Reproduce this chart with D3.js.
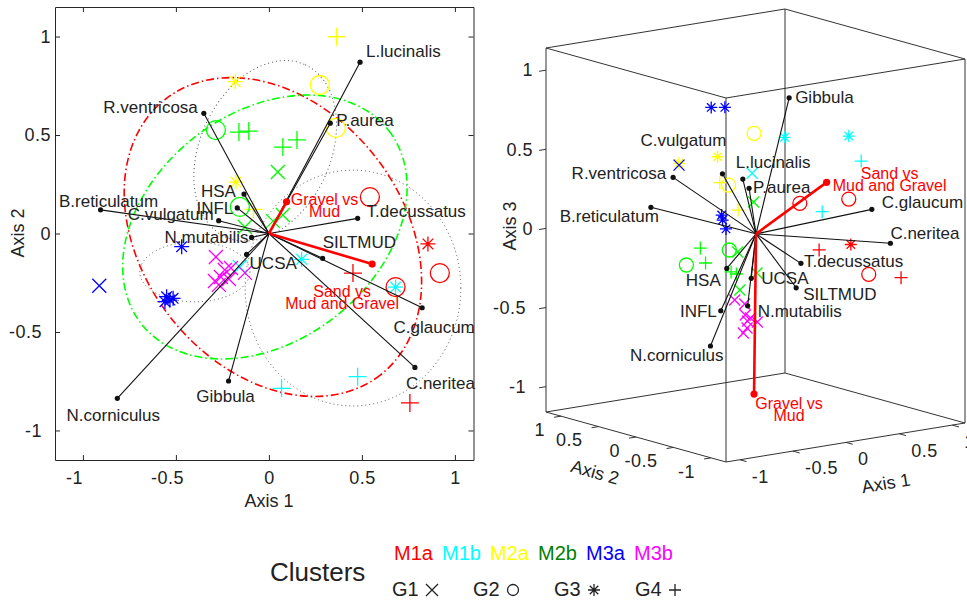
<!DOCTYPE html>
<html>
<head>
<meta charset="utf-8">
<script src="https://cdn.jsdelivr.net/npm/d3@7"></script>
<style>
  body { margin: 0; background: #fff; }
  svg { font-family: "Liberation Sans", Arial, sans-serif; }
</style>
</head>
<body>
<svg id="chart" width="967" height="601"></svg>
<script>
// ---- data ----
const clusters = ["M1a", "M1b", "M2a", "M2b", "M3a", "M3b"];
const groups = ["G1", "G2", "G3", "G4"];
const ticks = [-1, -0.5, 0, 0.5, 1];

// samples: cluster, group, axis1, axis2, axis3
const samples = [
  ["M1a", "G2", 0.543, 0.185, 0.109],
  ["M1a", "G3", 0.855, -0.053, -0.154],
  ["M1a", "G2", 0.919, -0.201, -0.330],
  ["M1a", "G4", 0.452, -0.201, -0.125],
  ["M1a", "G2", 0.681, -0.272, 0.181],
  ["M1a", "G4", 0.758, -0.860, -0.247],
  ["M1b", "G3", 0.681, -0.272, 0.579],
  ["M1b", "G3", 0.176, -0.131, 0.608],
  ["M1b", "G1", -0.156, -0.170, 0.422],
  ["M1b", "G4", 0.068, -0.786, 0.236],
  ["M1b", "G4", 0.477, -0.727, 0.503],
  ["M2a", "G4", 0.364, 0.999, 0.152],
  ["M2a", "G3", -0.181, 0.771, 0.364],
  ["M2a", "G2", 0.274, 0.754, 0.179],
  ["M2a", "G2", 0.360, 0.536, 0.525],
  ["M2a", "G3", -0.177, 0.261, 0.472],
  ["M2a", "G4", -0.083, 0.122, 0.143],
  ["M2b", "G2", -0.285, 0.525, -0.235],
  ["M2b", "G4", -0.161, 0.515, -0.140],
  ["M2b", "G4", -0.108, 0.520, -0.241],
  ["M2b", "G4", 0.075, 0.439, -0.307],
  ["M2b", "G4", 0.151, 0.475, -0.333],
  ["M2b", "G1", 0.048, 0.312, -0.161],
  ["M2b", "G2", -0.156, 0.135, -0.103],
  ["M2b", "G1", -0.129, 0.033, -0.345],
  ["M2b", "G1", 0.022, 0.063, 0.190],
  ["M2b", "G1", 0.075, 0.094, -0.268],
  ["M3a", "G1", -0.912, -0.265, 0.569],
  ["M3a", "G3", -0.469, -0.067, 0.859],
  ["M3a", "G3", -0.550, -0.321, 0.221],
  ["M3a", "G3", -0.532, -0.338, 0.902],
  ["M3a", "G3", -0.559, -0.346, 0.194],
  ["M3a", "G3", -0.515, -0.329, 0.131],
  ["M3b", "G1", -0.285, -0.119, -0.371],
  ["M3b", "G1", -0.237, -0.185, -0.393],
  ["M3b", "G1", -0.204, -0.175, -0.506],
  ["M3b", "G1", -0.258, -0.221, -0.456],
  ["M3b", "G1", -0.290, -0.241, -0.563],
  ["M3b", "G1", -0.215, -0.231, -0.478],
  ["M3b", "G1", -0.129, -0.200, -0.517],
  ["M3b", "G1", -0.269, -0.261, -0.531]
];

// species vectors in the 2-D plot: name, axis1, axis2
const species2d = [
  ["L.lucinalis", 0.49, 0.87],
  ["P.aurea", 0.33, 0.56],
  ["R.ventricosa", -0.35, 0.61],
  ["HSA", -0.134, 0.20],
  ["INFL", -0.17, 0.13],
  ["B.reticulatum", -0.905, 0.12],
  ["C.vulgatum", -0.27, 0.065],
  ["N.mutabilis", -0.093, -0.02],
  ["UCSA", -0.12, -0.106],
  ["T.decussatus", 0.477, 0.077],
  ["SILTMUD", 0.289, -0.126],
  ["C.glaucum", 0.824, -0.377],
  ["C.neritea", 0.785, -0.68],
  ["Gibbula", -0.217, -0.749],
  ["N.corniculus", -0.815, -0.837]
];
// species vectors in the 3-D plot: name, axis1, axis2, axis3
const species3d = [
  ["L.lucinalis", 0.49, 0.87, 0.178],
  ["P.aurea", 0.33, 0.56, 0.178],
  ["R.ventricosa", -0.35, 0.61, 0.315],
  ["HSA", -0.134, 0.20, -0.23],
  ["INFL", -0.24, 0.13, -0.477],
  ["B.reticulatum", -0.905, 0.12, 0.251],
  ["C.vulgatum", -0.27, 0.065, 0.40],
  ["N.mutabilis", -0.093, -0.02, -0.442],
  ["UCSA", -0.12, -0.106, -0.254],
  ["T.decussatus", 0.477, 0.077, -0.249],
  ["SILTMUD", 0.289, -0.126, -0.356],
  ["C.glaucum", 0.824, -0.377, 0.114],
  ["C.neritea", 0.785, -0.68, -0.056],
  ["Gibbula", -0.217, -0.749, 0.982],
  ["N.corniculus", -1.02, -0.837, -0.487]
];
// environmental vectors: name, axis1, axis2, axis3
const envVectors = [
  ["Gravel vs\nMud", 0.095, 0.161, -1.044],
  ["Sand vs\nMud and Gravel", 0.555, -0.155, 0.285]
];
// ellipses in the 2-D plot: kind, centre axis1, centre axis2, semi-axes (axis-1 units), angle
const ellipses = [
  ["dotted", -0.02, 0.42, 0.51, 0.35, -65],
  ["dotted", 0.452, -0.277, 0.58, 0.634, 0],
  ["dotted", -0.398, -0.195, 0.296, 0.161, 0],
  ["red", 0.0215, -0.018, 0.94, 0.70, 52],
  ["green", -0.0215, 0.033, 0.844, 0.613, -38]
];

// ---- styles / layout ----
const markerColor = {M1a: "#ff0000", M1b: "#00ffff", M2a: "#ffff00", M2b: "#00ff00", M3a: "#0000ff", M3b: "#ff00ff"};
const legendColor = {M1a: "#ff0000", M1b: "#00ffff", M2a: "#ffff00", M2b: "#008000", M3a: "#0000ff", M3b: "#ff00ff"};
const symbolOf = {G1: "x", G2: "o", G3: "*", G4: "+"};
const ellipseStyle = {
  dotted: {stroke: "#555", width: 1, dash: "1,3"},
  red: {stroke: "#ff0000", width: 1.6, dash: "8,3,1.5,3"},
  green: {stroke: "#00ff00", width: 1.6, dash: "8,3,1.5,3"}
};
const ink = "#222";
const tickFont = 18;
const negShift = 9;   // negative tick labels sit a little further out, as in the original

// label placement: [anchor, dx, dy]
const labels2d = {
  "L.lucinalis": ["start", 6, -11], "P.aurea": ["start", 6, -3], "R.ventricosa": ["end", -6, -6],
  "HSA": ["end", -8, -3], "INFL": ["end", -4, 0], "B.reticulatum": ["middle", 8, -9],
  "C.vulgatum": ["end", -5, -7], "N.mutabilis": ["end", -3, 0], "UCSA": ["start", 3, 9],
  "T.decussatus": ["start", 9, -7], "SILTMUD": ["start", 0, -16], "C.glaucum": ["middle", 12, 19],
  "C.neritea": ["start", -9, 16], "Gibbula": ["middle", -3, 15], "N.corniculus": ["middle", -4, 17],
  "Gravel vs\nMud": ["middle", 38, -2], "Sand vs\nMud and Gravel": ["middle", -30, 27]
};
const labels3d = {
  "Gibbula": ["start", 6, -1], "L.lucinalis": ["start", -7, -17], "P.aurea": ["start", 4, -1],
  "C.vulgatum": ["end", 4, -34], "R.ventricosa": ["end", -7, -4], "B.reticulatum": ["end", 8, 9],
  "HSA": ["end", -6, 12], "INFL": ["end", -4, 0], "N.corniculus": ["end", 13, 9],
  "T.decussatus": ["start", 3, -2], "UCSA": ["start", 10, 0], "SILTMUD": ["start", 7, 6],
  "N.mutabilis": ["start", 10, 5], "C.glaucum": ["start", 10, -7], "C.neritea": ["start", 0, -10],
  "Gravel vs\nMud": ["middle", 35, 9], "Sand vs\nMud and Gravel": ["middle", 63, -9]
};

const svg = d3.select("#chart");

function symbolPath(sym, s) {
  const k = s * 0.7071;
  if (sym === "x") return `M${-s},${-s}L${s},${s}M${-s},${s}L${s},${-s}`;
  if (sym === "+") return `M${-s},0L${s},0M0,${-s}L0,${s}`;
  if (sym === "*") return `M${-s},0L${s},0M0,${-s}L0,${s}M${-k},${-k}L${k},${k}M${-k},${k}L${k},${-k}`;
  return null;
}
function drawMarker(g, sym, x, y, color, size) {
  if (sym === "o") {
    g.append("circle").attr("cx", x).attr("cy", y).attr("r", size.o)
      .attr("fill", "none").attr("stroke", color).attr("stroke-width", 1.3);
  } else {
    const s = sym === "x" ? size.x : sym === "+" ? size.p : size.a;
    g.append("path").attr("d", symbolPath(sym, s)).attr("transform", `translate(${x},${y})`)
      .attr("fill", "none").attr("stroke", color).attr("stroke-width", 1.3);
  }
}
function drawLabel(g, text, x, y, place, color, size) {
  const lines = text.split("\n");
  const t = g.append("text").attr("text-anchor", place[0]).attr("fill", color)
    .attr("font-size", size);
  lines.forEach((ln, i) => {
    t.append("tspan").attr("x", x + place[1]).attr("y", y + place[2] + i * 12)
      .attr("dy", "0.35em").text(ln);
  });
}

// ================= LEFT: 2-D biplot =================
const xL = d3.scaleLinear().domain([-1.15, 1.1]).range([55, 473.5]);
const yL = d3.scaleLinear().domain([-1.15, 1.15]).range([460, 7]);
const kx = xL(1) - xL(0);
const gL = svg.append("g");

const fmt = d => String(d);
function styleAxis(sel) {
  sel.selectAll("path, line").attr("stroke", "#262626").attr("stroke-width", 1);
  sel.selectAll("text").attr("fill", ink).attr("font-size", tickFont).attr("font-family", null)
    .attr("letter-spacing", 0.5);
}
gL.append("g").attr("transform", `translate(0,460)`)
  .call(d3.axisBottom(xL).tickValues(ticks).tickFormat(fmt).tickSizeInner(-5).tickSizeOuter(0).tickPadding(11))
  .call(styleAxis)
  .selectAll(".tick text").attr("dx", d => d < 0 ? -negShift : 0);
gL.append("g").attr("transform", `translate(0,7)`)
  .call(d3.axisTop(xL).tickValues(ticks).tickFormat("").tickSizeInner(-5).tickSizeOuter(0))
  .call(styleAxis);
gL.append("g").attr("transform", `translate(55,0)`)
  .call(d3.axisLeft(yL).tickValues(ticks).tickFormat(fmt).tickSizeInner(-5).tickSizeOuter(0).tickPadding(4))
  .call(styleAxis)
  .selectAll(".tick text").attr("dx", d => d < 0 ? -negShift : 0);
gL.append("g").attr("transform", `translate(473.5,0)`)
  .call(d3.axisRight(yL).tickValues(ticks).tickFormat("").tickSizeInner(-5).tickSizeOuter(0))
  .call(styleAxis);
gL.selectAll(".domain").attr("fill", "none");

gL.append("text").attr("x", 269).attr("y", 501).attr("dy", "0.35em").attr("text-anchor", "middle")
  .attr("font-size", 18).attr("fill", ink).text("Axis 1");
gL.append("text").attr("transform", "translate(18,233) rotate(-90)").attr("dy", "0.35em")
  .attr("text-anchor", "middle").attr("font-size", 18).attr("fill", ink).text("Axis 2");

ellipses.forEach(e => {
  const st = ellipseStyle[e[0]];
  gL.append("ellipse").attr("cx", 0).attr("cy", 0)
    .attr("rx", e[3] * kx).attr("ry", e[4] * kx)
    .attr("transform", `translate(${xL(e[1])},${yL(e[2])}) rotate(${e[5]})`)
    .attr("fill", "none").attr("stroke", st.stroke).attr("stroke-width", st.width)
    .attr("stroke-dasharray", st.dash);
});

const sizeL = {o: 9.5, x: 7, p: 9, a: 7.5};
samples.forEach(d => drawMarker(gL, symbolOf[d[1]], xL(d[2]), yL(d[3]), markerColor[d[0]], sizeL));

species2d.forEach(d => {
  gL.append("line").attr("x1", xL(0)).attr("y1", yL(0)).attr("x2", xL(d[1])).attr("y2", yL(d[2]))
    .attr("stroke", "#111").attr("stroke-width", 1.1);
  gL.append("circle").attr("cx", xL(d[1])).attr("cy", yL(d[2])).attr("r", 2.6).attr("fill", "#111");
});
envVectors.forEach(d => {
  gL.append("line").attr("x1", xL(0)).attr("y1", yL(0)).attr("x2", xL(d[1])).attr("y2", yL(d[2]))
    .attr("stroke", "#ff0000").attr("stroke-width", 2.6);
  gL.append("circle").attr("cx", xL(d[1])).attr("cy", yL(d[2])).attr("r", 3.6).attr("fill", "#ff0000");
});
species2d.forEach(d => drawLabel(gL, d[0], xL(d[1]), yL(d[2]), labels2d[d[0]], ink, 17));
envVectors.forEach(d => drawLabel(gL, d[0], xL(d[1]), yL(d[2]), labels2d[d[0]], "#ff0000", 16));

// ================= RIGHT: 3-D biplot =================
const lim1 = [-1.13, 1.12], lim2 = [-1.2, 1.2], lim3 = [-1.16, 1.14];
const s1 = d3.scaleLinear().domain(lim1).range([0, 1]);
const s2 = d3.scaleLinear().domain(lim2).range([0, 1]);
const s3 = d3.scaleLinear().domain(lim3).range([0, 1]);
const corner0 = [726, 462];          // screen position of (min, min, min)
const edge1 = [239, -39], edge2 = [-180, -50], edge3 = [0, -364];
function proj(a1, a2, a3) {
  const u = s1(a1), v = s2(a2), w = s3(a3);
  return [corner0[0] + u * edge1[0] + v * edge2[0] + w * edge3[0],
          corner0[1] + u * edge1[1] + v * edge2[1] + w * edge3[1]];
}
const gR = svg.append("g");

// box
const cornerIdx = [];
[0, 1].forEach(i => [0, 1].forEach(j => [0, 1].forEach(k => cornerIdx.push([i, j, k]))));
cornerIdx.forEach(a => cornerIdx.forEach(b => {
  const diff = (a[0] !== b[0]) + (a[1] !== b[1]) + (a[2] !== b[2]);
  if (diff === 1 && a < b) {
    const p = proj(lim1[a[0]], lim2[a[1]], lim3[a[2]]);
    const q = proj(lim1[b[0]], lim2[b[1]], lim3[b[2]]);
    gR.append("line").attr("x1", p[0]).attr("y1", p[1]).attr("x2", q[0]).attr("y2", q[1])
      .attr("stroke", "#333").attr("stroke-width", 1);
  }
}));
function unit(v) { const l = Math.hypot(v[0], v[1]); return [v[0] / l, v[1] / l]; }
const out1 = unit([-edge2[0], -edge2[1]]), out2 = unit([-edge1[0], -edge1[1]]);
function tickText(x, y, anchor, t) {
  gR.append("text").attr("x", x).attr("y", y).attr("dy", "0.35em").attr("text-anchor", anchor)
    .attr("font-size", tickFont).attr("letter-spacing", 0.5).attr("fill", ink).text(fmt(t));
}
ticks.forEach(t => {
  let p = proj(t, lim2[0], lim3[0]);
  gR.append("line").attr("x1", p[0]).attr("y1", p[1]).attr("x2", p[0] + 7 * out1[0]).attr("y2", p[1] + 7 * out1[1])
    .attr("stroke", "#333");
  tickText(p[0] + 12, p[1] + 16.5, "start", t);
  p = proj(lim1[0], t, lim3[0]);
  gR.append("line").attr("x1", p[0]).attr("y1", p[1]).attr("x2", p[0] + 7 * out2[0]).attr("y2", p[1] + 7 * out2[1])
    .attr("stroke", "#333");
  tickText(p[0] - 16, p[1] + 13.6, "end", t);
  p = proj(lim1[0], lim2[1], t);
  gR.append("line").attr("x1", p[0]).attr("y1", p[1]).attr("x2", p[0] + 7 * out2[0]).attr("y2", p[1] + 7 * out2[1])
    .attr("stroke", "#333");
  tickText(p[0] - 13 - (t < 0 ? 7 : 0), p[1], "end", t);
});
gR.append("text").attr("transform", "translate(886,483) rotate(-9.3)").attr("dy", "0.35em")
  .attr("text-anchor", "middle").attr("font-size", 18).attr("fill", ink).text("Axis 1");
gR.append("text").attr("transform", "translate(595,472) rotate(15.5)").attr("dy", "0.35em")
  .attr("text-anchor", "middle").attr("font-size", 18).attr("fill", ink).text("Axis 2");
gR.append("text").attr("transform", "translate(510,226) rotate(-90)").attr("dy", "0.35em")
  .attr("text-anchor", "middle").attr("font-size", 18).attr("fill", ink).text("Axis 3");

const o3 = proj(0, 0, 0);
const sizeR = {o: 7, x: 5.5, p: 6.5, a: 6};
samples.forEach(d => {
  const p = proj(d[2], d[3], d[4]);
  drawMarker(gR, symbolOf[d[1]], p[0], p[1], markerColor[d[0]], sizeR);
});
species3d.forEach(d => {
  const p = proj(d[1], d[2], d[3]);
  gR.append("line").attr("x1", o3[0]).attr("y1", o3[1]).attr("x2", p[0]).attr("y2", p[1])
    .attr("stroke", "#111").attr("stroke-width", 1.1);
  gR.append("circle").attr("cx", p[0]).attr("cy", p[1]).attr("r", 2.6).attr("fill", "#111");
});
envVectors.forEach(d => {
  const p = proj(d[1], d[2], d[3]);
  gR.append("line").attr("x1", o3[0]).attr("y1", o3[1]).attr("x2", p[0]).attr("y2", p[1])
    .attr("stroke", "#ff0000").attr("stroke-width", 2.6);
  gR.append("circle").attr("cx", p[0]).attr("cy", p[1]).attr("r", 3.6).attr("fill", "#ff0000");
});
species3d.forEach(d => {
  const p = proj(d[1], d[2], d[3]);
  drawLabel(gR, d[0], p[0], p[1], labels3d[d[0]], ink, 17);
});
envVectors.forEach(d => {
  const p = proj(d[1], d[2], d[3]);
  drawLabel(gR, d[0], p[0], p[1], labels3d[d[0]], "#ff0000", 16);
});

// ================= legend =================
const gLeg = svg.append("g");
gLeg.append("text").attr("x", 270).attr("y", 572).attr("dy", "0.35em").attr("font-size", 26)
  .attr("fill", ink).text("Clusters");
const clusterX = d3.scalePoint().domain(clusters).range([394, 634]);
clusters.forEach(c => {
  gLeg.append("text").attr("x", clusterX(c)).attr("y", 553).attr("dy", "0.35em").attr("font-size", 20)
    .attr("fill", legendColor[c]).text(c);
});
const groupX = d3.scalePoint().domain(groups).range([392, 635]);
const sizeLeg = {o: 5.5, x: 6, p: 6, a: 6};
groups.forEach(gname => {
  const x = groupX(gname);
  gLeg.append("text").attr("x", x).attr("y", 589).attr("dy", "0.35em").attr("font-size", 20)
    .attr("fill", ink).text(gname);
  drawMarker(gLeg, symbolOf[gname], x + 40, 590, ink, sizeLeg);
});
</script>
</body>
</html>
